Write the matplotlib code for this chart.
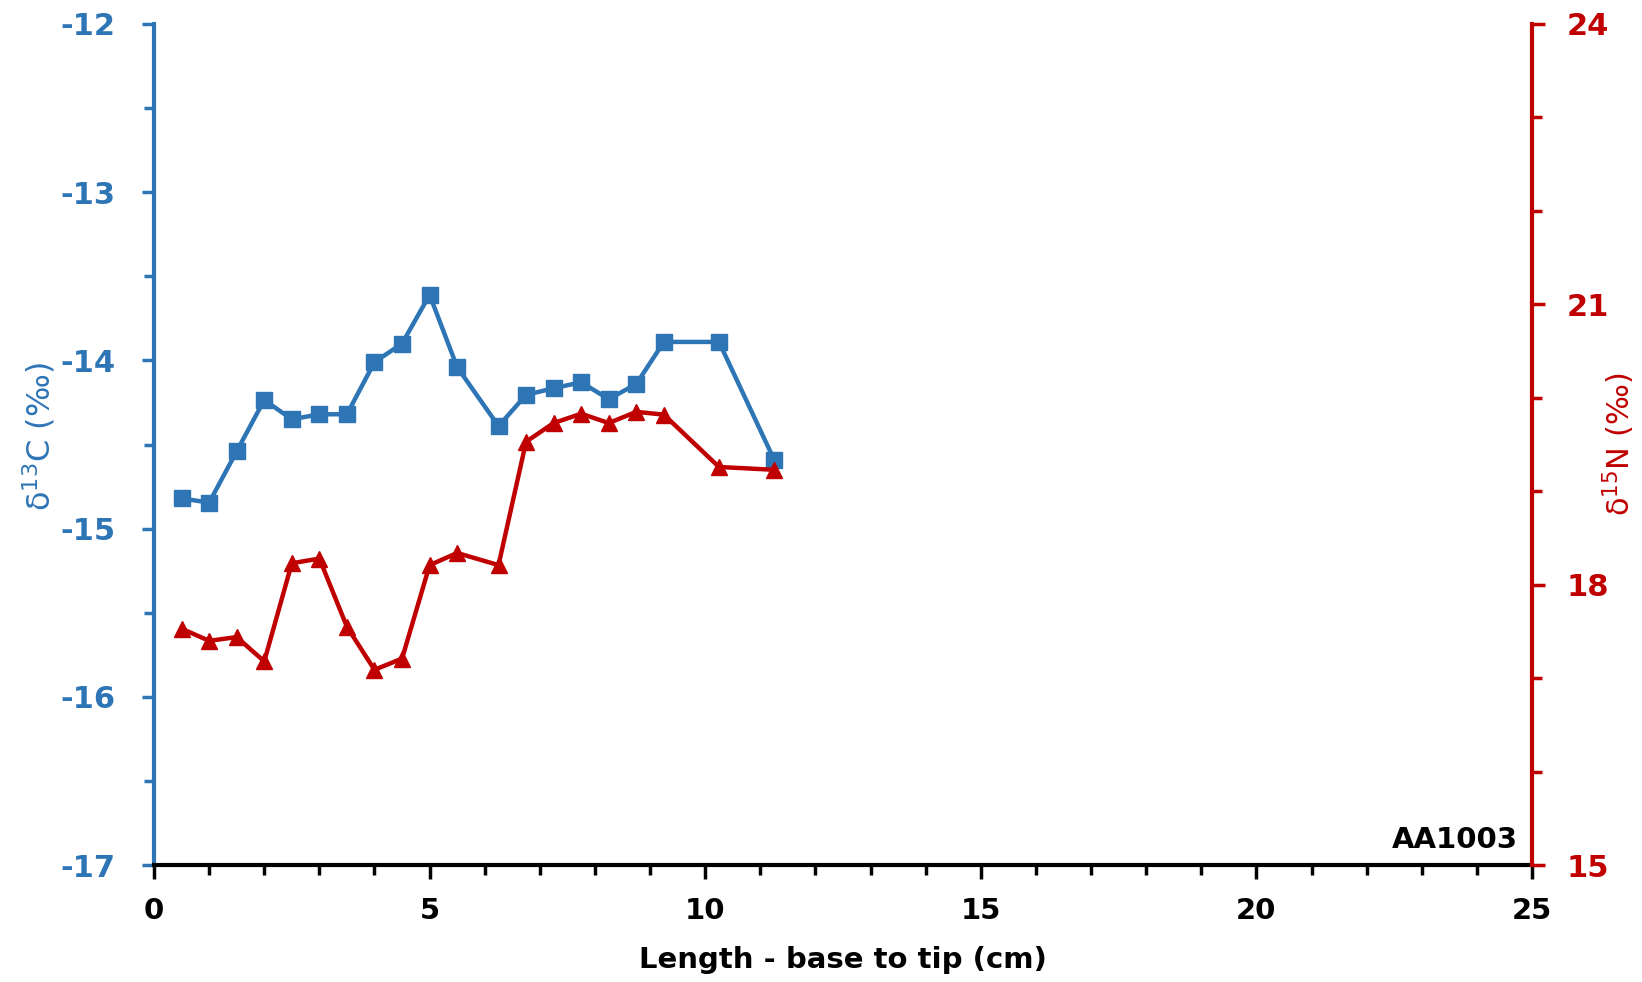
import matplotlib
matplotlib.use("Agg")
import matplotlib.pyplot as plt
from matplotlib.ticker import MultipleLocator

length_cm = [0.5, 1.0, 1.5, 2.0, 2.5, 3.0, 3.5, 4.0, 4.5, 5.0, 5.5, 6.25,
             6.75, 7.25, 7.75, 8.25, 8.75, 9.25, 10.25, 11.25]
d13C = [-14.82, -14.845, -14.54, -14.235, -14.35, -14.32, -14.32, -14.01, -13.90,
        -13.61, -14.04, -14.39, -14.205, -14.165, -14.13, -14.23, -14.14, -13.89,
        -13.89, -14.59]
d15N = [17.53, 17.40, 17.44, 17.18, 18.23, 18.28, 17.55, 17.09, 17.21, 18.21,
        18.34, 18.21, 19.53, 19.73, 19.83, 19.73, 19.85, 19.82, 19.26, 19.23]

BLUE = "#2E75B6"
RED = "#C00000"

plt.rcParams['mathtext.default'] = 'regular'
plt.rcParams['axes.unicode_minus'] = False

fig = plt.figure(figsize=(16.42, 9.82), dpi=100)
ax = fig.add_axes([0.0938, 0.119, 0.8392, 0.8566])
ax2 = ax.twinx()

ax.plot(length_cm, d13C, color=BLUE, lw=3.2, marker='s', ms=11, zorder=3)
ax2.plot(length_cm, d15N, color=RED, lw=3.2, marker='^', ms=12, zorder=3)

ax.set_xlim(0, 25)
ax.set_ylim(-17, -12)
ax2.set_ylim(15, 24)

ax.xaxis.set_major_locator(MultipleLocator(5))
ax.xaxis.set_minor_locator(MultipleLocator(1))
ax.yaxis.set_major_locator(MultipleLocator(1))
ax.yaxis.set_minor_locator(MultipleLocator(0.5))
ax2.yaxis.set_major_locator(MultipleLocator(3))
ax2.yaxis.set_minor_locator(MultipleLocator(1))

for a in (ax, ax2):
    a.spines['top'].set_visible(False)
ax.spines['right'].set_visible(False)
ax2.spines['left'].set_visible(False)
ax2.spines['bottom'].set_visible(False)
ax.spines['left'].set_color(BLUE)
ax.spines['left'].set_linewidth(3)
ax.spines['bottom'].set_color('black')
ax.spines['bottom'].set_linewidth(3)
ax2.spines['right'].set_color(RED)
ax2.spines['right'].set_linewidth(3)

ax.tick_params(axis='x', which='major', direction='out', length=10, width=2.5,
               color='black', labelsize=21, pad=13)
ax.tick_params(axis='x', which='minor', direction='out', length=7, width=2.5, color='black')
ax.tick_params(axis='y', which='major', direction='out', length=9, width=2.5,
               color=BLUE, labelcolor=BLUE, labelsize=22, pad=19)
ax.tick_params(axis='y', which='minor', direction='out', length=7, width=2.5, color=BLUE)
ax2.tick_params(axis='y', which='major', direction='out', length=9, width=2.5,
                color=RED, labelcolor=RED, labelsize=22, pad=16)
ax2.tick_params(axis='y', which='minor', direction='out', length=7, width=2.5, color=RED)

for lab in ax.get_yticklabels() + ax2.get_yticklabels() + ax.get_xticklabels():
    lab.set_fontweight('bold')

ax.set_xlabel('Length - base to tip (cm)', fontsize=21, fontweight='bold')
ax.xaxis.set_label_coords(0.5, -0.096)
ax.set_ylabel('δ$^{13}$C (‰)', fontsize=23, color=BLUE)
ax.yaxis.set_label_coords(-0.07, 0.51)
ax2.set_ylabel('δ$^{15}$N (‰)', fontsize=22, color=RED, rotation=90)
ax2.yaxis.set_label_coords(1.05, 0.5)

ax.text(0.99, 0.03, 'AA1003', transform=ax.transAxes, ha='right', va='center',
        fontsize=21, fontweight='bold', color='black')

fig.savefig('out.png', dpi=100)
